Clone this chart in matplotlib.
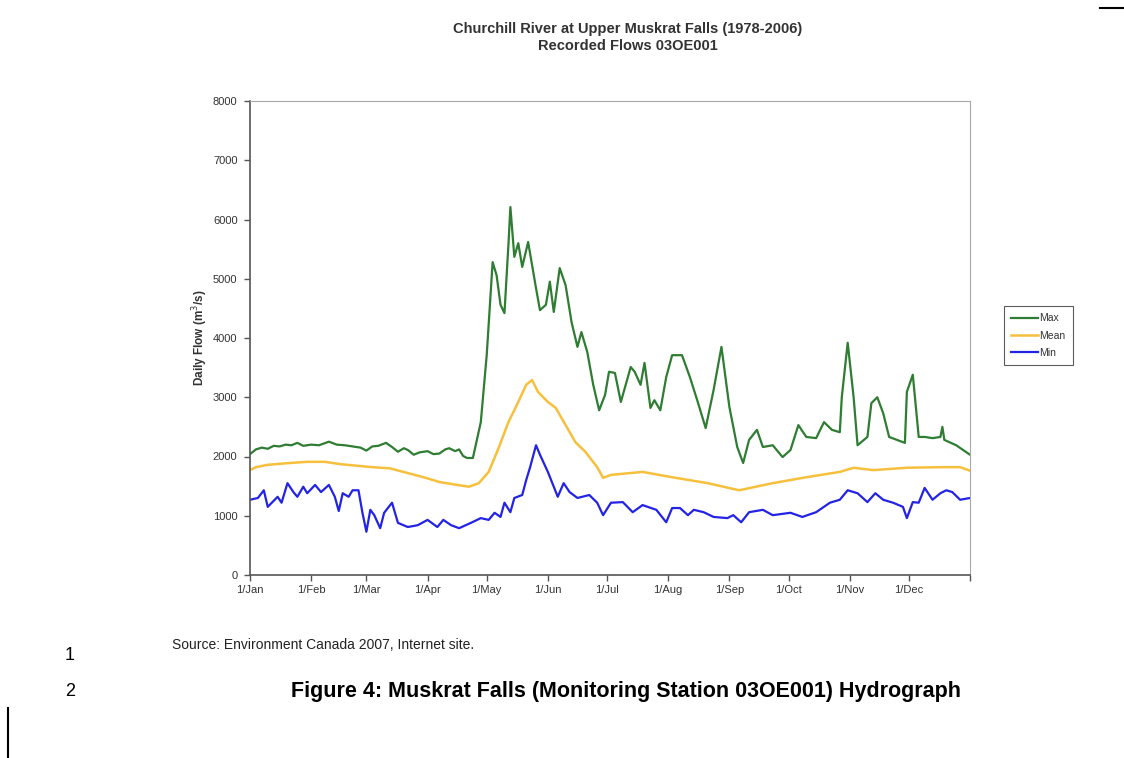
import matplotlib.pyplot as plt
from matplotlib.lines import Line2D

max_days = [0, 3, 6, 9, 12, 15, 18, 21, 24, 27, 31, 35, 40, 44, 48, 52, 56, 59, 62, 65, 69,
            72, 75, 78, 80, 83, 86, 90, 93, 96, 99, 101, 104, 106, 108, 110, 113,
            117, 120, 123, 125, 127, 129, 131, 132, 134, 136, 138, 141, 143, 145, 147, 150,
            152, 154, 157, 160, 163, 166, 168, 171, 174, 177, 180, 182, 185, 188, 193, 195,
            198, 200, 203, 205, 208, 211, 214, 219, 223, 227, 231, 235, 239, 243, 247, 250,
            253, 257, 260, 265, 270, 274, 278, 282, 287, 291, 295, 299, 300, 303, 306, 308,
            313, 315, 318, 321, 324, 328, 332, 333, 336, 339, 342, 346, 350, 351, 352, 358, 365]
max_flow = [2040, 2120, 2150, 2130, 2180, 2170, 2200, 2190, 2230, 2180, 2200, 2190, 2250, 2200,
            2190, 2170, 2150, 2100, 2170, 2180, 2230, 2160, 2080, 2140, 2110, 2030, 2070, 2090,
            2040, 2050, 2120, 2140, 2090, 2120, 2010, 1975, 1975,
            2580, 3710, 5280, 5060, 4560, 4420, 5570, 6210, 5370,
            5600, 5200, 5620, 5230, 4840, 4470, 4560, 4950, 4440, 5180, 4890, 4270, 3850, 4100,
            3760, 3210, 2780, 3040, 3430, 3410, 2920, 3510, 3430, 3210, 3580, 2820, 2950, 2780,
            3340, 3710, 3710, 3340, 2920, 2480, 3120, 3850, 2840, 2160, 1890, 2280, 2450, 2160,
            2190, 1990, 2110, 2530, 2330, 2310, 2580, 2450, 2410, 3000, 3920, 3000, 2190, 2330,
            2900, 3000, 2730, 2330, 2280, 2230, 3090, 3380, 2330, 2330, 2310, 2330, 2500, 2280,
            2190, 2030]

mean_days = [0, 3, 9, 20, 29, 38, 46, 62, 71, 80, 88, 96, 105, 111, 116, 121, 126, 131, 136,
             140, 143, 146, 151, 155, 160, 165, 170, 176, 179, 183, 199, 214, 232, 248, 265,
             282, 299, 306, 316, 333, 350, 360, 365]
mean_flow = [1770, 1820, 1860, 1890, 1910, 1910, 1870, 1820, 1800, 1720, 1650, 1570, 1520, 1490,
             1550, 1740, 2140, 2580, 2920, 3210, 3290, 3090, 2920, 2820, 2530, 2240, 2080, 1820,
             1640, 1690, 1740, 1650, 1550, 1430, 1550, 1650, 1740, 1810, 1770, 1810, 1820, 1820,
             1760]

min_days = [0, 4, 7, 9, 14, 16, 19, 22, 24, 27, 29, 33, 36, 40, 43, 45, 47, 50, 52, 55, 57, 59,
            61, 63, 66, 68, 72, 75, 80, 85, 90, 95, 98, 102, 106, 112, 117, 121, 124, 127, 129,
            132, 134, 138, 140, 142, 145, 147, 151, 154, 156, 159, 162, 166, 172, 176, 179, 183,
            189, 194, 199, 206, 211, 214, 218, 222, 225, 230, 235, 242, 245, 249, 253, 260, 265,
            274, 280, 287, 294, 299, 303, 308, 313, 317, 321, 326, 331, 333, 336, 339, 342, 346,
            350, 353, 356, 360, 365]
min_flow = [1270, 1300, 1430, 1150, 1320, 1220, 1550, 1400, 1320, 1490, 1380, 1520, 1400, 1520,
            1320, 1080, 1380, 1320, 1430, 1430, 1050, 730, 1100, 1010, 790, 1050, 1220, 880, 810,
            840, 930, 810, 930, 840, 790, 880, 960, 930, 1050, 980, 1220, 1060, 1300, 1350, 1600,
            1820, 2190, 2030, 1740, 1490, 1320, 1550, 1400, 1300, 1350, 1220, 1010, 1220, 1230,
            1060, 1180, 1100, 890, 1130, 1130, 1010, 1100, 1060, 980, 960, 1010, 890, 1060, 1100,
            1010, 1050, 980, 1060, 1220, 1270, 1430, 1380, 1230, 1380, 1270, 1220, 1150, 960,
            1230, 1220, 1470, 1270, 1380, 1430, 1400, 1270, 1300]

month_days = [0, 31, 59, 90, 120, 151, 181, 212, 243, 273, 304, 334, 365]
month_labels = ['1/Jan', '1/Feb', '1/Mar', '1/Apr', '1/May', '1/Jun', '1/Jul', '1/Aug',
                '1/Sep', '1/Oct', '1/Nov', '1/Dec', '']

plt.rcParams['font.family'] = ['Liberation Sans', 'DejaVu Sans']

fig = plt.figure(figsize=(11.24, 7.58), dpi=100)
ax = fig.add_axes([250 / 1124, 1 - 575 / 758, 720 / 1124, 474 / 758])

ax.plot(max_days, max_flow, color='#2e7d32', lw=1.6, label='Max')
ax.plot(mean_days, mean_flow, color='#f7c03c', lw=1.8, label='Mean')
ax.plot(min_days, min_flow, color='#2323e6', lw=1.6, label='Min')

ax.set_xlim(0, 365)
ax.set_ylim(0, 8000)
ax.set_yticks(range(0, 8001, 1000))
ax.set_xticks(month_days)
ax.set_xticklabels(month_labels)
ax.tick_params(axis='both', direction='out', length=4, width=1, labelsize=8,
               labelcolor='#333333', color='#555555')
ax.tick_params(axis='y', pad=5)
for s in ['left', 'bottom']:
    ax.spines[s].set_color('#555555')
    ax.spines[s].set_linewidth(1.2)
for s in ['top', 'right']:
    ax.spines[s].set_color('#aaaaaa')
    ax.spines[s].set_linewidth(0.8)

ax.set_ylabel('Daily Flow (m$^3$/s)', fontsize=8.5, fontweight='bold', color='#333333',
              labelpad=2)

leg = ax.legend(loc='upper left', bbox_to_anchor=(1004 / 1124, 1 - 306 / 758),
                bbox_transform=fig.transFigure, fontsize=7.5, frameon=True, fancybox=False,
                handlelength=2.6, borderpad=0.7, labelspacing=0.7, handletextpad=0.1,
                borderaxespad=0)
leg.get_frame().set_edgecolor('#333333')
leg.get_frame().set_linewidth(0.8)
for t in leg.get_texts():
    t.set_color('#333333')

fig.text(628 / 1124, 1 - 29 / 758, 'Churchill River at Upper Muskrat Falls (1978-2006)',
         ha='center', va='center', fontsize=10.5, fontweight='bold', color='#333333')
fig.text(628 / 1124, 1 - 46 / 758, 'Recorded Flows 03OE001',
         ha='center', va='center', fontsize=10.5, fontweight='bold', color='#333333')

fig.text(172 / 1124, 1 - 645 / 758, 'Source: Environment Canada 2007, Internet site.',
         ha='left', va='center', fontsize=10, color='#222222')
fig.text(70 / 1124, 1 - 655 / 758, '1', ha='center', va='center', fontsize=13)
fig.text(70 / 1124, 1 - 692 / 758, '2', ha='center', va='center', fontsize=13)
fig.text(626 / 1124, 1 - 692 / 758,
         'Figure 4: Muskrat Falls (Monitoring Station 03OE001) Hydrograph',
         ha='center', va='center', fontsize=15.5, fontweight='bold')

# page edge marks
fig.add_artist(Line2D([8 / 1124, 8 / 1124], [0, 1 - 708 / 758], color='black', lw=1.5))
fig.add_artist(Line2D([1100 / 1124, 1], [1 - 8 / 758, 1 - 8 / 758], color='black', lw=1.5))

fig.savefig('out.png', dpi=100)
